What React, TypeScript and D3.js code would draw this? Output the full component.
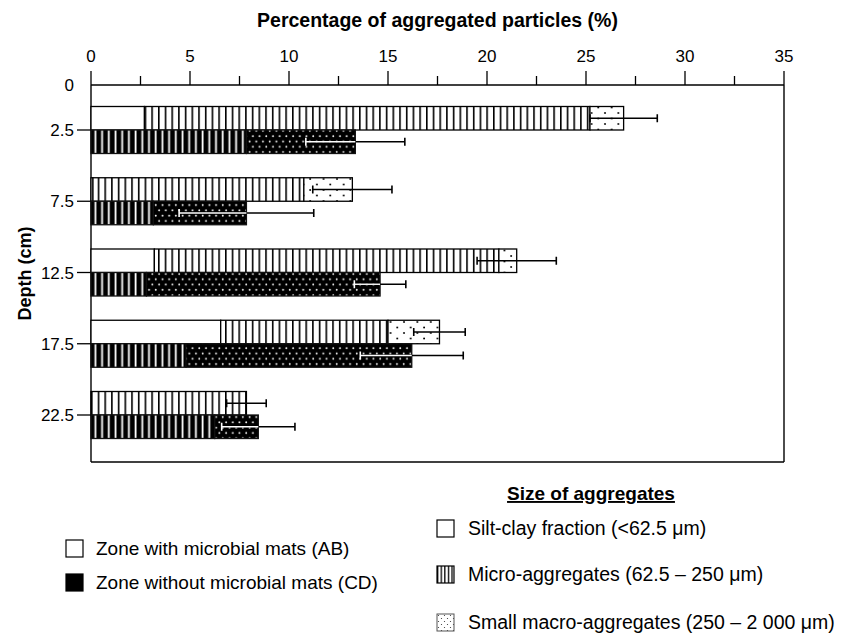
import React from "react";
import * as d3 from "d3";

const depths = ["2.5", "7.5", "12.5", "17.5", "22.5"];
const depthValues = [2.5, 7.5, 12.5, 17.5, 22.5];
const xTicks = [0, 5, 10, 15, 20, 25, 30, 35];
const xMinorTicks = [2.5, 7.5, 12.5, 17.5, 22.5, 27.5, 32.5];

// Zone with microbial mats (AB)
const abSilt = [2.7, 0.1, 3.2, 6.55, 0];
const abMicro = [22.5, 10.65, 17.4, 8.45, 7.85];
const abMacro = [1.7, 2.45, 0.9, 2.6, 0];
const abErr = [1.7, 2.0, 2.0, 1.3, 1.0];

// Zone without microbial mats (CD)
const cdSilt = [0, 0, 0, 0, 0];
const cdMicro = [7.85, 3.15, 2.8, 4.8, 6.25];
const cdMacro = [5.5, 4.7, 11.8, 11.4, 2.2];
const cdErr = [2.5, 3.4, 1.3, 2.6, 1.85];

const FONT = "'Liberation Sans', Arial, sans-serif";
const BOLD = "'Liberation Sans', Arial, sans-serif";

export default function App() {
  const W = 862, H = 638;
  const left = 91, right = 784, top = 85, bottom = 462;
  const x = d3.scaleLinear().domain([0, 35]).range([left, right]);
  const y = d3.scaleLinear().domain([2.5, 22.5]).range([130, 415]);
  const bh = 23.5;

  const zones = [
    { key: "ab", silt: abSilt, micro: abMicro, macro: abMacro, err: abErr, off: -bh, dark: false },
    { key: "cd", silt: cdSilt, micro: cdMicro, macro: cdMacro, err: cdErr, off: 0, dark: true },
  ];

  const segFill = (dark: boolean, i: number) =>
    dark ? ["#000", "url(#microDark)", "url(#macroDark)"][i] : ["#fff", "url(#microLight)", "url(#macroLight)"][i];

  return (
    <svg width={W} height={H} style={{ position: "absolute", left: 0, top: 0, background: "#fff" }}>
      <defs>
        <pattern id="microLight" patternUnits="userSpaceOnUse" width={6.7} height={10} x={left}>
          <rect width={6.7} height={10} fill="#fff" />
          <rect x={0} width={1.6} height={10} fill="#000" />
        </pattern>
        <pattern id="microDark" patternUnits="userSpaceOnUse" width={6.7} height={10} x={left}>
          <rect width={6.7} height={10} fill="#000" />
          <rect x={3.5} width={1.8} height={10} fill="#fff" />
        </pattern>
        <pattern id="macroLight" patternUnits="userSpaceOnUse" width={13.4} height={11}>
          <rect width={13.4} height={11} fill="#fff" />
          <circle cx={2} cy={3} r={0.95} fill="#000" />
          <circle cx={8.7} cy={8.5} r={0.95} fill="#000" />
        </pattern>
        <pattern id="macroDark" patternUnits="userSpaceOnUse" width={6.7} height={10.6} y={1}>
          <rect width={6.7} height={10.6} fill="#000" />
          <circle cx={1.7} cy={2.6} r={0.95} fill="#fff" />
          <circle cx={5.0} cy={7.9} r={0.95} fill="#fff" />
        </pattern>
        <pattern id="microLegend" patternUnits="userSpaceOnUse" width={3.6} height={10} x={437}>
          <rect width={3.6} height={10} fill="#fff" />
          <rect x={0} width={1.3} height={10} fill="#000" />
        </pattern>
        <pattern id="macroLegend" patternUnits="userSpaceOnUse" width={6} height={6} x={437} y={614}>
          <rect width={6} height={6} fill="#fff" />
          <circle cx={1.5} cy={1.5} r={0.6} fill="#333" />
          <circle cx={4.5} cy={4.5} r={0.6} fill="#333" />
        </pattern>
      </defs>

      {/* Title */}
      <text x={(left + right) / 2} y={27} textAnchor="middle" fontFamily={BOLD} fontWeight="bold" fontSize={19.5}>
        Percentage of aggregated particles (%)
      </text>

      {/* Top axis */}
      <line x1={left} x2={right} y1={top} y2={top} stroke="#000" strokeWidth={1.4} />
      {xTicks.map((t) => (
        <g key={"t" + t}>
          <line x1={x(t)} x2={x(t)} y1={top} y2={top - 14} stroke="#000" strokeWidth={1.3} />
          <text x={x(t)} y={62} textAnchor="middle" fontFamily={FONT} fontSize={17}>{t}</text>
        </g>
      ))}
      {xMinorTicks.map((t) => (
        <line key={"m" + t} x1={x(t)} x2={x(t)} y1={top} y2={top - 9} stroke="#000" strokeWidth={1.3} />
      ))}

      {/* Plot frame */}
      <line x1={left} x2={left} y1={top} y2={bottom} stroke="#000" strokeWidth={1.4} />
      <line x1={right} x2={right} y1={top} y2={bottom} stroke="#000" strokeWidth={1.4} />
      <line x1={left} x2={right} y1={bottom} y2={bottom} stroke="#000" strokeWidth={1.4} />

      {/* Depth axis */}
      <text x={74} y={91} textAnchor="end" fontFamily={FONT} fontSize={17}>0</text>
      {depthValues.map((d, i) => (
        <g key={"d" + d}>
          <line x1={left - 14} x2={left} y1={y(d)} y2={y(d)} stroke="#000" strokeWidth={1.3} />
          <text x={74} y={y(d) + 6} textAnchor="end" fontFamily={FONT} fontSize={17}>{depths[i]}</text>
        </g>
      ))}
      <text transform={`translate(31,${(top + bottom) / 2}) rotate(-90)`} textAnchor="middle" fontFamily={BOLD} fontWeight="bold" fontSize={18}>
        Depth (cm)
      </text>

      {/* Bars */}
      {zones.map((z) =>
        depthValues.map((d, i) => {
          const vals = [z.silt[i], z.micro[i], z.macro[i]];
          let acc = 0;
          const y0 = y(d) + z.off;
          const segs = vals.map((v, k) => {
            const s = acc;
            acc += v;
            return { s, e: acc, k };
          }).filter((sg) => sg.e - sg.s > 0);
          const total = acc;
          const cy = y0 + bh / 2;
          const lo = x(total - z.err[i]);
          const hi = x(total + z.err[i]);
          const end = x(total);
          return (
            <g key={z.key + d}>
              {segs.map((sg) => (
                <rect key={sg.k} x={x(sg.s)} y={y0} width={x(sg.e) - x(sg.s)} height={bh}
                  fill={segFill(z.dark, sg.k)} stroke={z.dark ? "#111" : "#000"} strokeWidth={1.3} />
              ))}
              <line x1={lo} x2={hi} y1={cy} y2={cy} stroke="#000" strokeWidth={1.4} />
              <line x1={hi} x2={hi} y1={cy - 4} y2={cy + 4} stroke="#000" strokeWidth={1.6} />
              {z.dark ? (
                <g>
                  <line x1={lo} x2={end} y1={cy} y2={cy} stroke="#fff" strokeWidth={1.4} />
                  <line x1={lo} x2={lo} y1={cy - 4} y2={cy + 4} stroke="#fff" strokeWidth={1.6} />
                </g>
              ) : (
                <line x1={lo} x2={lo} y1={cy - 4} y2={cy + 4} stroke="#000" strokeWidth={1.6} />
              )}
            </g>
          );
        })
      )}

      {/* Legend: zones */}
      <rect x={66} y={540} width={17} height={17} fill="#fff" stroke="#000" strokeWidth={1.2} />
      <text x={96} y={555} fontFamily={FONT} fontSize={19}>Zone with microbial mats (AB)</text>
      <rect x={66} y={574} width={17} height={17} fill="#000" stroke="#000" strokeWidth={1.2} />
      <text x={96} y={589} fontFamily={FONT} fontSize={19}>Zone without microbial mats (CD)</text>

      {/* Legend: size of aggregates */}
      <text x={591} y={500} textAnchor="middle" fontFamily={BOLD} fontWeight="bold" fontSize={19} textDecoration="underline">
        Size of aggregates
      </text>
      <rect x={437} y={520} width={17} height={17} fill="#fff" stroke="#000" strokeWidth={1.2} />
      <text x={468} y={535} fontFamily={FONT} fontSize={19.5}>Silt-clay fraction (&lt;62.5 μm)</text>
      <rect x={437} y={566} width={17} height={17} fill="url(#microLegend)" stroke="#000" strokeWidth={1.2} />
      <text x={468} y={581} fontFamily={FONT} fontSize={19.5}>Micro-aggregates (62.5 – 250 μm)</text>
      <rect x={437} y={614} width={17} height={17} fill="url(#macroLegend)" stroke="#555" strokeWidth={1} />
      <text x={468} y={629} fontFamily={FONT} fontSize={19.5}>Small macro-aggregates (250 – 2 000 μm)</text>
    </svg>
  );
}
